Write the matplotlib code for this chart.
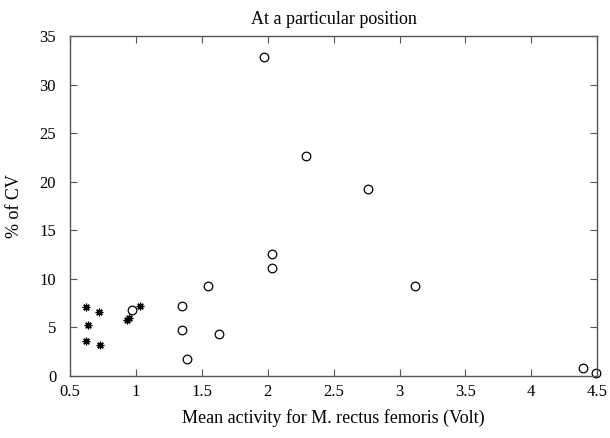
import matplotlib.pyplot as plt

plt.rcParams['font.family'] = ['Liberation Serif', 'DejaVu Serif']

# open circles
circ_x = [1.97, 2.29, 2.76, 2.03, 2.03, 1.55, 1.35, 1.35, 1.63, 1.39, 3.12, 4.39, 4.49, 0.97]
circ_y = [32.9, 22.7, 19.3, 12.6, 11.1, 9.3, 7.2, 4.75, 4.3, 1.7, 9.3, 0.8, 0.28, 6.8]

# asterisks
star_x = [0.62, 0.72, 0.64, 0.62, 0.73, 1.03, 0.945, 0.935]
star_y = [7.15, 6.6, 5.3, 3.6, 3.2, 7.25, 6.0, 5.8]

fig = plt.figure(figsize=(6.1, 4.38), dpi=100)
ax = fig.add_axes([0.1148, 0.1416, 0.8642, 0.7751])

ax.plot(circ_x, circ_y, 'o', mfc='none', mec='black', ms=6.2, mew=0.9, clip_on=False)
ax.plot(star_x, star_y, ls='none', marker=(8, 2, 0), color='black', ms=5.5, mew=0.9, clip_on=False)

ax.set_xlim(0.5, 4.5)
ax.set_ylim(0, 35)
ax.set_xticks([0.5, 1, 1.5, 2, 2.5, 3, 3.5, 4, 4.5])
ax.set_xticklabels(['0.5', '1', '1.5', '2', '2.5', '3', '3.5', '4', '4.5'])
ax.set_yticks(range(0, 36, 5))

for s in ax.spines.values():
    s.set_color('#555555')
    s.set_linewidth(1.0)
ax.tick_params(direction='in', top=True, right=True, length=5, width=0.8,
               color='#555555', labelsize=12)
ax.tick_params(axis='y', pad=10)
ax.tick_params(axis='x', pad=6)

ax.set_title('At a particular position', fontsize=13, pad=9)
ax.set_xlabel('Mean activity for M. rectus femoris (Volt)', fontsize=13, labelpad=6)
ax.set_ylabel('% of CV', fontsize=13, labelpad=12)

fig.savefig('out.png', dpi=100)
